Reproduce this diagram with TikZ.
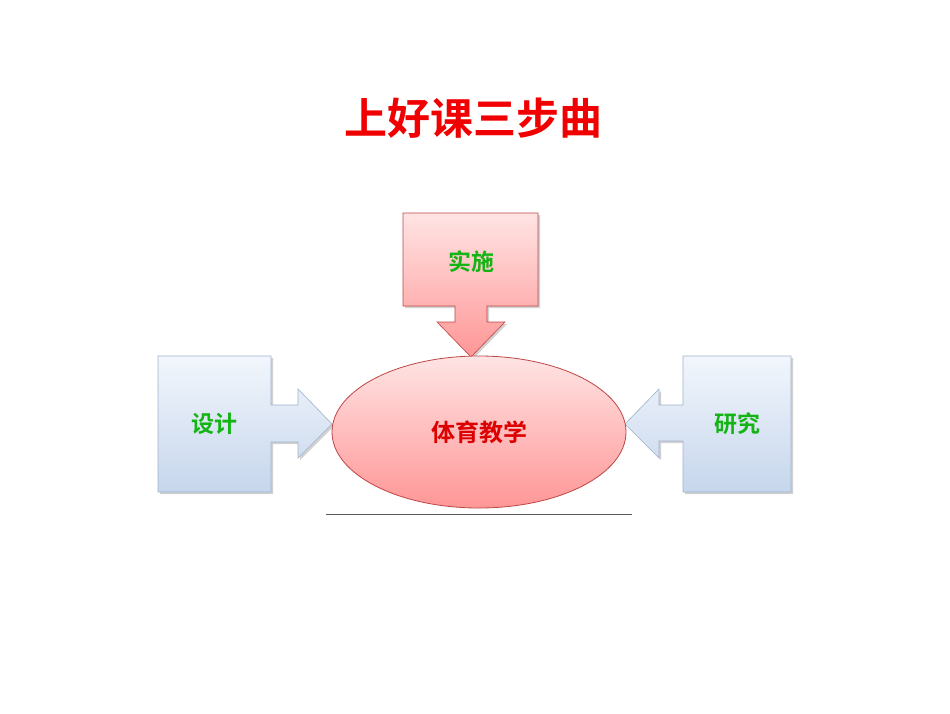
\documentclass[tikz,border=0pt]{standalone}
\usepackage{fontspec}
\newfontfamily\cjk{Noto Sans CJK SC}
\newfontfamily\cjkb{Noto Sans CJK SC Bold}
\usetikzlibrary{shapes.geometric}
\definecolor{titlered}{RGB}{240,0,0}
\definecolor{lblgreen}{RGB}{20,180,20}
\definecolor{pinktop}{RGB}{255,228,228}
\definecolor{pinkbot}{RGB}{255,150,150}
\definecolor{pinkedge}{RGB}{190,70,70}
\definecolor{bluetop}{RGB}{242,246,252}
\definecolor{bluebot}{RGB}{198,214,236}
\definecolor{blueedge}{RGB}{160,180,205}
\definecolor{centred}{RGB}{220,0,0}
\tikzset{
  pinkcallout/.style={draw=pinkedge,line width=0.6pt,top color=pinktop,bottom color=pinkbot},
  bluecallout/.style={draw=blueedge,line width=0.6pt,top color=bluetop,bottom color=bluebot},
  shadowcol/.style={fill=black!18,draw=none},
  lbl/.style={font=\cjkb\fontsize{23}{23}\selectfont,text=lblgreen},
}
\begin{document}
\begin{tikzpicture}[x=1pt,y=-1pt]
\useasboundingbox (0,0) rectangle (950,713);
\fill[white] (0,0) rectangle (950,713);
% title
\node[font=\cjkb\fontsize{43}{43}\selectfont,text=titlered] (title) at (473,118) {上好课三步曲};
% top callout shadow + shape
\fill[shadowcol] (405,215) -- (540,215) -- (540,308) -- (489,308) -- (489,324) -- (507,324) -- (473,359) -- (439,324) -- (457,324) -- (457,308) -- (405,308) -- cycle;
\path[pinkcallout] (403,213) -- (538,213) -- (538,306) -- (487,306) -- (487,322) -- (505,322) -- (471,357) -- (437,322) -- (455,322) -- (455,306) -- (403,306) -- cycle;
% left callout
\fill[shadowcol] (160,358) -- (273,358) -- (273,407) -- (300,407) -- (300,391) -- (334,426) -- (300,460) -- (300,444) -- (273,444) -- (273,494) -- (160,494) -- cycle;
\path[bluecallout] (158,356) -- (271,356) -- (271,405) -- (298,405) -- (298,389) -- (332,424) -- (298,458) -- (298,442) -- (271,442) -- (271,492) -- (158,492) -- cycle;
% right callout
\fill[shadowcol] (793,358) -- (685,358) -- (685,407) -- (661,407) -- (661,391) -- (627,426) -- (661,460) -- (661,443) -- (685,443) -- (685,494) -- (793,494) -- cycle;
\path[bluecallout] (791,356) -- (683,356) -- (683,405) -- (659,405) -- (659,389) -- (625,424) -- (659,458) -- (659,441) -- (683,441) -- (683,492) -- (791,492) -- cycle;
% ellipse
\node[ellipse,minimum width=294pt,minimum height=152pt,inner sep=0pt,pinkcallout,line width=0.8pt] (core) at (479,432) {};
\node[font=\cjkb\fontsize{24}{24}\selectfont,text=centred] (corelbl) at (479,432) {体育教学};
% labels
\node[lbl] (impl) at (471,262) {实施};
\node[lbl] (design) at (214,424) {设计};
\node[lbl] (research) at (737,424) {研究};
% base line
\coordinate (la) at (326,514);
\coordinate (lb) at (632,514);
\draw[black!65,line width=0.7pt] (la) -- (lb);
\end{tikzpicture}
\end{document}
